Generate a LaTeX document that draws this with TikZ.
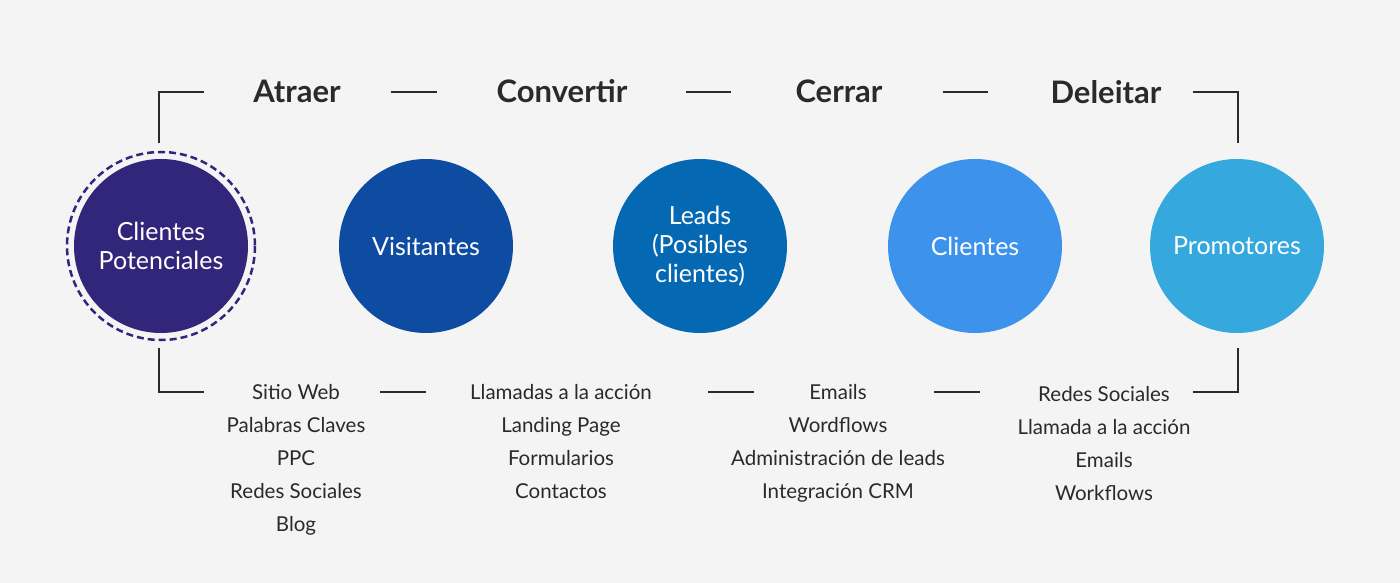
\documentclass[tikz,border=0pt]{standalone}
\usepackage{fontspec}
\setmainfont{Lato}
\definecolor{bgcol}{HTML}{F4F4F4}
\definecolor{linecol}{HTML}{2A2A2A}
\definecolor{potcol}{HTML}{32267B}
\definecolor{viscol}{HTML}{0E4CA1}
\definecolor{leadcol}{HTML}{0568B2}
\definecolor{clicol}{HTML}{3D93EC}
\definecolor{procol}{HTML}{35A8DE}
\tikzset{
  stage/.style={circle, minimum size=174pt, inner sep=0pt, text=white, align=center,
    font=\fontsize{25}{29}\selectfont},
  phase/.style={inner sep=0pt, text=linecol, text height=22pt, text depth=0pt,
    font=\fontsize{31}{36}\selectfont\bfseries},
  item/.style={inner sep=0pt, text=linecol, text height=14pt, text depth=0pt,
    font=\fontsize{20.5}{24}\selectfont},
  bar/.style={line width=2.5pt, draw=linecol},
}
\begin{document}
\begin{tikzpicture}[x=1pt, y=-1pt]
  \path[fill=bgcol] (0,0) rectangle (1400,583);

  % etapas
  \node[stage, fill=potcol] (potenciales) at (161,246) {Clientes\\Potenciales};
  \draw[potcol, line width=2.5pt, dash pattern=on 7pt off 4pt] (potenciales.center) circle (94);
  \node[stage, fill=viscol] (visitantes) at (426,246) {Visitantes};
  \node[stage, fill=leadcol] (leads) at (700,246) {Leads\\(Posibles\\clientes)};
  \node[stage, fill=clicol] (clientes) at (975,246) {Clientes};
  \node[stage, fill=procol] (promotores) at (1237,246) {Promotores};

  % fases
  \node[phase] (atraer) at (297,92) {Atraer};
  \node[phase] (convertir) at (562,92) {Convertir};
  \node[phase] (cerrar) at (839,92) {Cerrar};
  \node[phase] (deleitar) at (1106,93) {Deleitar};

  \coordinate (topA) at (159,143);
  \coordinate (topB) at (204,92);
  \coordinate (topC) at (391,92);
  \coordinate (topD) at (437,92);
  \coordinate (topE) at (686,92);
  \coordinate (topF) at (731,92);
  \coordinate (topG) at (943,92);
  \coordinate (topH) at (988,92);
  \coordinate (topI) at (1193,92);
  \coordinate (topJ) at (1238,143);
  \draw[bar] (topA) |- (topB);
  \draw[bar] (topC) -- (topD);
  \draw[bar] (topE) -- (topF);
  \draw[bar] (topG) -- (topH);
  \draw[bar] (topI) -| (topJ);

  % herramientas
  \foreach \txt [count=\i] in {Sitio Web, Palabras Claves, PPC, Redes Sociales, Blog}
    \node[item] (atr-\i) at (296,392+33*\i-33) {\txt};
  \foreach \txt [count=\i] in {Llamadas a la acción, Landing Page, Formularios, Contactos}
    \node[item] (conv-\i) at (561,392+33*\i-33) {\txt};
  \foreach \txt [count=\i] in {Emails, Wordflows, Administración de leads, Integración CRM}
    \node[item] (cer-\i) at (838,392+33*\i-33) {\txt};
  \foreach \txt [count=\i] in {Redes Sociales, Llamada a la acción, Emails, Workflows}
    \node[item] (del-\i) at (1104,394+33*\i-33) {\txt};

  \coordinate (botA) at (159,348);
  \coordinate (botB) at (204,392);
  \coordinate (botC) at (380,392);
  \coordinate (botD) at (426,392);
  \coordinate (botE) at (708,392);
  \coordinate (botF) at (754,392);
  \coordinate (botG) at (934,392);
  \coordinate (botH) at (980,392);
  \coordinate (botI) at (1193,392);
  \coordinate (botJ) at (1238,348);
  \draw[bar] (botA) |- (botB);
  \draw[bar] (botC) -- (botD);
  \draw[bar] (botE) -- (botF);
  \draw[bar] (botG) -- (botH);
  \draw[bar] (botI) -| (botJ);
\end{tikzpicture}
\end{document}
